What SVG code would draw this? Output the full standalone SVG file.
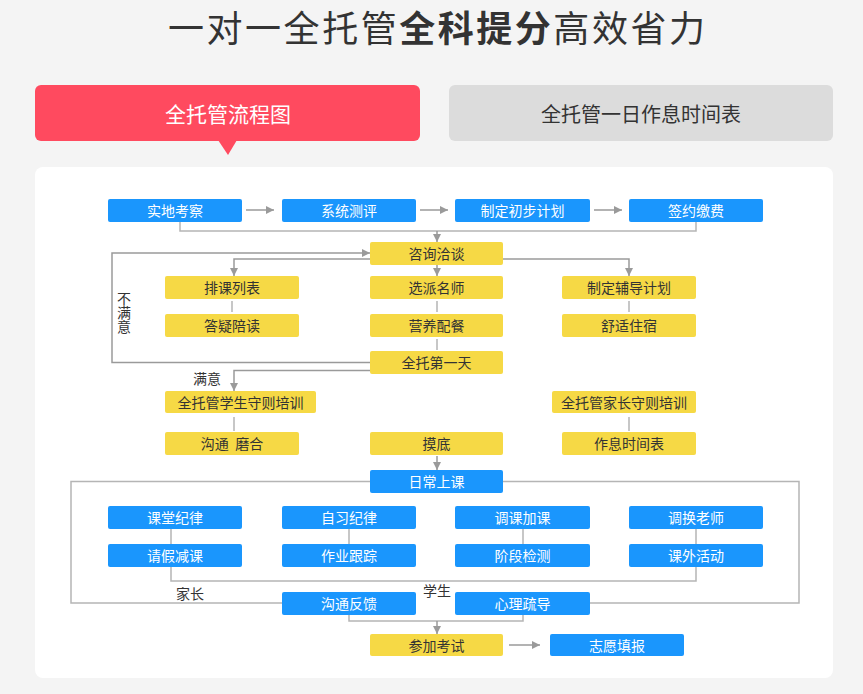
<svg xmlns="http://www.w3.org/2000/svg" width="863" height="694" viewBox="0 0 863 694">
<defs>
<marker id="ah" viewBox="0 0 10 10" refX="10" refY="5" markerWidth="8" markerHeight="8" markerUnits="userSpaceOnUse" orient="auto"><path d="M0,0 L10,5 L0,10 z" fill="#9a9a9a"/></marker>
<style>
text{font-family:"Noto Sans CJK SC","Microsoft YaHei",sans-serif}
.b rect{fill:#1a96fd}
.y rect{fill:#f6d945}
.b text{fill:#ffffff;font-size:14px;text-anchor:middle;dominant-baseline:central}
.y text{fill:#333333;font-size:14px;text-anchor:middle;dominant-baseline:central}
.ln{fill:none;stroke:#b5b5b5;stroke-width:1.5}
.ar{fill:none;stroke:#9a9a9a;stroke-width:1.5}
.lb{fill:#333333;font-size:14px;text-anchor:middle;dominant-baseline:central}
.vl{fill:#333333;font-size:14px;text-anchor:middle;writing-mode:vertical-rl}
</style>
</defs>
<rect x="0" y="0" width="863" height="694" fill="#f4f4f4"/>
<text x="168" y="42" font-size="36" fill="#333333" textLength="537" lengthAdjust="spacing">一对一全托管<tspan font-weight="bold">全科提分</tspan>高效省力</text>
<g id="tab1">
<rect x="35" y="85" width="385" height="56" rx="6" fill="#ff4a5f"/>
<path d="M218,140 L237,140 L228,155 z" fill="#ff4a5f"/>
<text x="228" y="113" font-size="21" fill="#ffffff" text-anchor="middle" dominant-baseline="central">全托管流程图</text>
</g>
<g id="tab2">
<rect x="449" y="85" width="384" height="56" rx="6" fill="#dcdcdc"/>
<text x="641" y="113" font-size="20" fill="#333333" text-anchor="middle" dominant-baseline="central">全托管一日作息时间表</text>
</g>
<rect x="35" y="167" width="798" height="511" rx="8" fill="#ffffff"/>
<g id="connectors">
<path class="ar" d="M246,210 H274" marker-end="url(#ah)"/>
<path class="ar" d="M420,210 H448" marker-end="url(#ah)"/>
<path class="ar" d="M594,210 H622" marker-end="url(#ah)"/>
<path class="ln" d="M180,222 V231 H696 V222"/>
<path class="ar" d="M437,231 V242" marker-end="url(#ah)"/>
<path class="ar" d="M370,259 H234 V276" marker-end="url(#ah)"/>
<path class="ar" d="M503,259 H629 V276" marker-end="url(#ah)"/>
<path class="ar" d="M437,265 V276" marker-end="url(#ah)"/>
<path class="ln" d="M232,301 V312 M437,301 V312 M629,301 V312 M437,339 V350"/>
<path class="ar" d="M370,362.5 H112 V253 H370" marker-end="url(#ah)"/>
<path class="ar" d="M370,370.5 H234 V391" marker-end="url(#ah)"/>
<path class="ln" d="M234,417 V431 M629,417 V431"/>
<path class="ar" d="M437,456 V470" marker-end="url(#ah)"/>
<path class="ln" d="M370,481.5 H71 V603 H282"/>
<path class="ln" d="M503,481.5 H799 V603 H590"/>
<path class="ln" d="M171,529 V544 M349,529 V544 M523,529 V544 M696,529 V544"/>
<path class="ln" d="M171,567 V581 H696 V567"/>
<path class="ln" d="M349,615 V621 H523 V615"/>
<path class="ar" d="M437,621 V634" marker-end="url(#ah)"/>
<path class="ar" d="M509,645 H540" marker-end="url(#ah)"/>
</g>
<text class="vl" x="124" y="313">不满意</text>
<text class="lb" x="207" y="378">满意</text>
<text class="lb" x="190" y="593">家长</text>
<text class="lb" x="437" y="590">学生</text>
<g id="n1" class="b"><rect x="108" y="199" width="134" height="23" rx="2"/><text x="175" y="210">实地考察</text></g>
<g id="n2" class="b"><rect x="282" y="199" width="134" height="23" rx="2"/><text x="349" y="210">系统测评</text></g>
<g id="n3" class="b"><rect x="455" y="199" width="135" height="23" rx="2"/><text x="522.5" y="210">制定初步计划</text></g>
<g id="n4" class="b"><rect x="629" y="199" width="134" height="23" rx="2"/><text x="696" y="210">签约缴费</text></g>
<g id="n5" class="y"><rect x="370" y="242" width="133" height="23" rx="2"/><text x="436.5" y="253">咨询洽谈</text></g>
<g id="n6" class="y"><rect x="165" y="276" width="134" height="23" rx="2"/><text x="232" y="287">排课列表</text></g>
<g id="n7" class="y"><rect x="370" y="276" width="133" height="23" rx="2"/><text x="436.5" y="287">选派名师</text></g>
<g id="n8" class="y"><rect x="562" y="276" width="134" height="23" rx="2"/><text x="629" y="287">制定辅导计划</text></g>
<g id="n9" class="y"><rect x="165" y="314" width="134" height="23" rx="2"/><text x="232" y="325">答疑陪读</text></g>
<g id="n10" class="y"><rect x="370" y="314" width="133" height="23" rx="2"/><text x="436.5" y="325">营养配餐</text></g>
<g id="n11" class="y"><rect x="562" y="314" width="134" height="23" rx="2"/><text x="629" y="325">舒适住宿</text></g>
<g id="n12" class="y"><rect x="370" y="351" width="133" height="23" rx="2"/><text x="436.5" y="362">全托第一天</text></g>
<g id="n13" class="y"><rect x="165" y="391" width="151" height="22" rx="2"/><text x="240.5" y="401.5">全托管学生守则培训</text></g>
<g id="n14" class="y"><rect x="552" y="391" width="144" height="22" rx="2"/><text x="624" y="401.5">全托管家长守则培训</text></g>
<g id="n15" class="y"><rect x="165" y="432" width="134" height="23" rx="2"/><text x="232" y="443">沟通&#160;&#160;磨合</text></g>
<g id="n16" class="y"><rect x="370" y="432" width="133" height="23" rx="2"/><text x="436.5" y="443">摸底</text></g>
<g id="n17" class="y"><rect x="562" y="432" width="134" height="23" rx="2"/><text x="629" y="443">作息时间表</text></g>
<g id="n18" class="b"><rect x="370" y="470" width="133" height="23" rx="2"/><text x="436.5" y="481">日常上课</text></g>
<g id="n19" class="b"><rect x="108" y="506" width="134" height="23" rx="2"/><text x="175" y="517">课堂纪律</text></g>
<g id="n20" class="b"><rect x="282" y="506" width="134" height="23" rx="2"/><text x="349" y="517">自习纪律</text></g>
<g id="n21" class="b"><rect x="455" y="506" width="135" height="23" rx="2"/><text x="522.5" y="517">调课加课</text></g>
<g id="n22" class="b"><rect x="629" y="506" width="134" height="23" rx="2"/><text x="696" y="517">调换老师</text></g>
<g id="n23" class="b"><rect x="108" y="544" width="134" height="23" rx="2"/><text x="175" y="555">请假减课</text></g>
<g id="n24" class="b"><rect x="282" y="544" width="134" height="23" rx="2"/><text x="349" y="555">作业跟踪</text></g>
<g id="n25" class="b"><rect x="455" y="544" width="135" height="23" rx="2"/><text x="522.5" y="555">阶段检测</text></g>
<g id="n26" class="b"><rect x="629" y="544" width="134" height="23" rx="2"/><text x="696" y="555">课外活动</text></g>
<g id="n27" class="b"><rect x="282" y="592" width="134" height="23" rx="2"/><text x="349" y="603">沟通反馈</text></g>
<g id="n28" class="b"><rect x="455" y="592" width="135" height="23" rx="2"/><text x="522.5" y="603">心理疏导</text></g>
<g id="n29" class="y"><rect x="370" y="634" width="133" height="22" rx="2"/><text x="436.5" y="644.5">参加考试</text></g>
<g id="n30" class="b"><rect x="550" y="634" width="134" height="22" rx="2"/><text x="617" y="644.5">志愿填报</text></g>
</svg>
